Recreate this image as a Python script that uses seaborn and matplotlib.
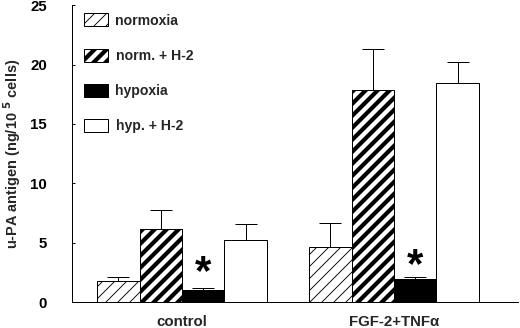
import matplotlib
matplotlib.use("Agg")
import matplotlib.pyplot as plt
import matplotlib.patches as mpatches
import seaborn as sns
import pandas as pd

groups = ["control", "FGF-2+TNFα"]
conditions = ["normoxia", "norm. + H-2", "hypoxia", "hyp. + H-2"]
means = {
    "normoxia":    [1.75, 4.65],
    "norm. + H-2": [6.15, 17.85],
    "hypoxia":     [1.0, 1.95],
    "hyp. + H-2":  [5.2, 18.45],
}
errors = {
    "normoxia":    [0.35, 2.0],
    "norm. + H-2": [1.6, 3.45],
    "hypoxia":     [0.18, 0.15],
    "hyp. + H-2":  [1.35, 1.75],
}
star_y = [2.45, 3.05]
yticks = [0, 5, 10, 15, 20, 25]

rows = []
for c in conditions:
    for g, m in zip(groups, means[c]):
        rows.append({"group": g, "condition": c, "value": m})
df = pd.DataFrame(rows)

sns.set_theme(style="ticks")
plt.rcParams["font.family"] = ["Liberation Sans", "DejaVu Sans"]
plt.rcParams["font.weight"] = "bold"

fig = plt.figure(figsize=(520 / 72, 328 / 72), dpi=72)
ax = fig.add_axes([72 / 520, 26 / 328, 446 / 520, 296.7 / 328])

sns.barplot(data=df, x="group", y="value", hue="condition", order=groups,
            hue_order=conditions, width=0.8, ax=ax, errorbar=None,
            palette=["white", "white", "black", "white"], edgecolor="black",
            linewidth=1.0, saturation=1, legend=False)

styles = {
    "normoxia": ("white", "//", 0.9),
    "norm. + H-2": ("white", "//", 4.2),
    "hypoxia": ("black", None, 1.0),
    "hyp. + H-2": ("white", None, 1.0),
}

for ci, cond in enumerate(conditions):
    cont = ax.containers[ci]
    fc, hatch, hlw = styles[cond]
    for bi, bar in enumerate(cont):
        bar.set_facecolor(fc)
        bar.set_edgecolor("black")
        if hatch:
            bar.set_hatch(hatch)
            if hasattr(bar, "set_hatch_linewidth"):
                bar.set_hatch_linewidth(hlw)
        xc = bar.get_x() + bar.get_width() / 2
        top = bar.get_height()
        ax.errorbar([xc], [top], yerr=[[0], [errors[cond][bi]]], fmt="none",
                    ecolor="black", elinewidth=1.0, capsize=11, capthick=1.0,
                    zorder=1)
        if cond == "hypoxia":
            ax.text(xc, star_y[bi], "*", ha="center", va="center",
                    fontsize=42, fontweight="bold", color="black")

ax.set_xlim(-0.519, 1.585)
ax.set_ylim(0, 25)
ax.set_yticks(yticks)
ax.set_yticklabels([str(t) for t in yticks], fontsize=15, fontweight="bold")
ax.tick_params(axis="y", direction="in", length=3, width=1, pad=25, colors="black")
ax.tick_params(axis="x", length=0, pad=13, labelsize=15)
for lab in ax.get_xticklabels():
    lab.set_fontweight("bold")
ax.set_xlabel("")
ax.set_ylabel("u-PA antigen (ng/10 $^{5}$ cells)", fontsize=14.5, fontweight="bold",
              labelpad=7)
sns.despine(ax=ax)
for s in ["left", "bottom"]:
    ax.spines[s].set_linewidth(1.0)
    ax.spines[s].set_color("black")

handles = []
for cond in conditions:
    fc, hatch, hlw = styles[cond]
    p = mpatches.Patch(facecolor=fc, edgecolor="black", linewidth=1.0,
                       hatch=hatch, label=cond)
    handles.append(p)
leg = ax.legend(handles=handles, loc="upper left",
                bbox_to_anchor=(12 / 446, 1 - 8 / 296.7),
                frameon=False, fontsize=14, handlelength=1.7, handleheight=1.05,
                labelspacing=1.5, handletextpad=0.55, borderaxespad=0,
                borderpad=0)
for t in leg.get_texts():
    t.set_fontweight("bold")
lh = getattr(leg, "legend_handles", None) or getattr(leg, "legendHandles", [])
for h, cond in zip(lh, conditions):
    fc, hatch, hlw = styles[cond]
    if hatch and hasattr(h, "set_hatch_linewidth"):
        h.set_hatch_linewidth(hlw)

fig.savefig("out.png", dpi=72)
